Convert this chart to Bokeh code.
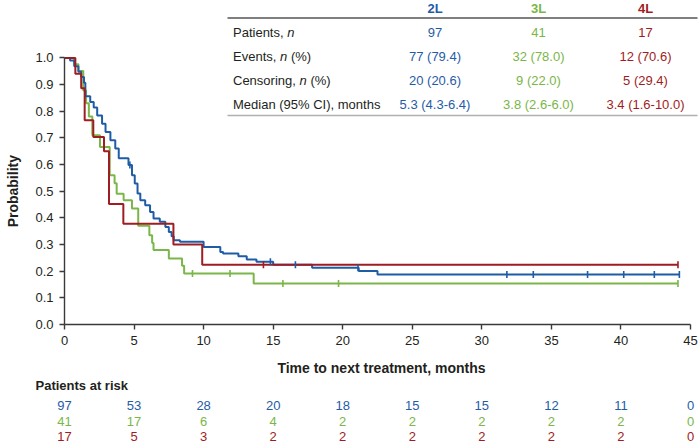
import numpy as np
from bokeh.plotting import figure
from bokeh.layouts import column, row
from bokeh.models import Range1d, FixedTicker, NumeralTickFormatter
from bokeh.core.properties import value
from bokeh.embed import file_html
from bokeh.resources import INLINE

FONT = "Liberation Sans"
C_2L, C_3L, C_4L = "#1f5ca6", "#7ab648", "#9e1d22"
INK = "#231f20"

# Kaplan-Meier step curves (time in months, survival probability)
t_2l = [0, 0.4, 0.7, 1.0, 1.2, 1.4, 1.5, 1.85, 2.1, 2.35, 2.7, 2.95, 3.3, 3.65, 3.9,
        4.6, 4.85, 5.05, 5.25, 5.45, 5.8, 6.15, 6.4, 6.85, 7.25, 7.5, 7.7, 7.85, 8.3,
        10.0, 11.2, 11.4, 12.5, 13.1, 13.8, 15.0, 17.8, 21.15, 22.5, 44.2]
s_2l = [1.0, 0.99, 0.969, 0.948, 0.928, 0.907, 0.856, 0.835, 0.814, 0.784, 0.753, 0.722, 0.691, 0.66, 0.624,
        0.598, 0.56, 0.529, 0.491, 0.466, 0.447, 0.422, 0.398, 0.385, 0.366, 0.347, 0.331, 0.316, 0.31,
        0.291, 0.272, 0.266, 0.256, 0.244, 0.235, 0.224, 0.213, 0.201, 0.188, 0.188]
cens_2l = [4.7, 14.8, 16.6, 21.1, 31.8, 33.7, 37.6, 40.2, 42.4, 44.2]

t_3l = [0, 0.7, 1.0, 1.35, 1.55, 1.75, 2.0, 2.55, 3.25, 3.6, 3.75, 4.25, 4.85, 5.3,
        6.1, 6.3, 6.4, 7.5, 8.45, 8.6, 13.6, 44.1]
s_3l = [1.0, 0.976, 0.951, 0.878, 0.83, 0.78, 0.71, 0.666, 0.56, 0.53, 0.49, 0.466, 0.435, 0.37,
        0.335, 0.306, 0.279, 0.248, 0.22, 0.191, 0.154, 0.154]
cens_3l = [9.2, 11.9, 15.7, 19.7, 44.1]

t_4l = [0, 0.78, 1.2, 1.45, 2.07, 2.84, 3.2, 4.23, 7.83, 9.9, 44.1]
s_4l = [1.0, 0.941, 0.886, 0.766, 0.703, 0.65, 0.452, 0.378, 0.30, 0.224, 0.224]
cens_4l = [14.3, 44.1]

# Numbers at risk
risk_times = [0, 5, 10, 15, 20, 25, 30, 35, 40, 45]
risk_2l = [97, 53, 28, 20, 18, 15, 15, 12, 11, 0]
risk_3l = [41, 17, 6, 4, 2, 2, 2, 2, 2, 0]
risk_4l = [17, 5, 3, 2, 2, 2, 2, 2, 2, 0]

# Summary table
table_groups = ["2L", "3L", "4L"]
table_patients = ["97", "41", "17"]
table_events = ["77 (79.4)", "32 (78.0)", "12 (70.6)"]
table_censoring = ["20 (20.6)", "9 (22.0)", "5 (29.4)"]
table_median = ["5.3 (4.3-6.4)", "3.8 (2.6-6.0)", "3.4 (1.6-10.0)"]

# ---- layout (canvas pixels) ----
W, H = 700, 443
STRIP_W = 24                      # narrow strip holding the y title
MAIN_W = W - STRIP_W
MAIN_H, RISK_H = 378, 65
LEFT = 64                         # canvas x of the time origin
RIGHT_PAD = 2
FRAME_H = 324
PX_PER_MONTH = (690 - LEFT) / 45.0
PX_PER_PROB = 266.6

def dx(px):
    return (px - LEFT) / PX_PER_MONTH

def dy(py):
    return (FRAME_H - py) / PX_PER_PROB

def clean(fig):
    fig.grid.visible = False
    fig.outline_line_color = None
    fig.background_fill_color = "white"
    fig.border_fill_color = "white"

# ---- main survival plot ----
p = figure(width=MAIN_W, height=MAIN_H, output_backend="svg", toolbar_location=None,
           x_range=Range1d(0, dx(W - RIGHT_PAD)), y_range=Range1d(0, dy(0)),
           min_border_left=LEFT - STRIP_W, min_border_right=RIGHT_PAD,
           min_border_top=0, min_border_bottom=MAIN_H - FRAME_H)
clean(p)

# ---- y title strip (its frame lines up with the main frame, so it shares the y scale) ----
s = figure(width=STRIP_W, height=MAIN_H, output_backend="svg", toolbar_location=None,
           x_range=Range1d(0, STRIP_W), y_range=p.y_range,
           x_axis_location=None, y_axis_location=None,
           min_border_left=0, min_border_right=0, min_border_top=0,
           min_border_bottom=MAIN_H - FRAME_H)
clean(s)
s.text(x=[12], y=[0.5], text=["Probability"], angle=np.pi / 2,
       text_color=INK, text_font=value(FONT), text_font_size="14px", text_font_style="bold",
       text_align="center", text_baseline="middle")

for ax in (p.xaxis[0], p.yaxis[0]):
    ax.axis_line_color = "#3a3a3a"
    ax.axis_line_width = 1.4
    ax.major_tick_line_color = "#3a3a3a"
    ax.major_tick_line_width = 1.4
    ax.major_tick_out = 5
    ax.major_tick_in = 0
    ax.minor_tick_out = 0
    ax.minor_tick_in = 0
    ax.major_label_text_font = FONT
    ax.major_label_text_font_size = "13px"
    ax.major_label_text_color = INK
    ax.major_label_standoff = 6

xa = p.xaxis[0]
xa.ticker = FixedTicker(ticks=risk_times)
xa.bounds = (0, 45)
xa.axis_label = "Time to next treatment, months"
xa.axis_label_text_font = FONT
xa.axis_label_text_font_size = "14px"
xa.axis_label_text_font_style = "bold"
xa.axis_label_text_color = INK
xa.axis_label_standoff = 12

ya = p.yaxis[0]
ya.ticker = FixedTicker(ticks=[i / 10 for i in range(11)])
ya.formatter = NumeralTickFormatter(format="0.0")
ya.bounds = (0, 1)

# survival curves with censor ticks
def surv_at(times, surv, c):
    idx = np.searchsorted(np.asarray(times), np.asarray(c), side="right") - 1
    return list(np.asarray(surv)[idx])

groups = ((t_3l, s_3l, cens_3l, C_3L),
          (t_2l, s_2l, cens_2l, C_2L),
          (t_4l, s_4l, cens_4l, C_4L))
for t, sv, c, col in groups:
    p.step(x=t, y=sv, mode="after", line_color=col, line_width=2)
for t, sv, c, col in groups:
    p.scatter(x=c, y=surv_at(t, sv, c), marker="dash", angle=np.pi / 2,
              size=7, line_color=col, line_width=1.6)

# ---- summary table ----
TABLE_X0, TABLE_X1 = 227, 697
HEADER_Y, TOP_RULE_Y, BOTTOM_RULE_Y = 7.5, 17.5, 115
ROW_Y = [31.7, 56, 80, 103.5]
LABEL_X = 232.5
COL_X = [434.5, 538, 645]
COLS = [C_2L, C_3L, C_4L]

p.segment(x0=[dx(TABLE_X0)], y0=[dy(TOP_RULE_Y)], x1=[dx(TABLE_X1)], y1=[dy(TOP_RULE_Y)],
          line_color="#555555", line_width=1.5)
p.segment(x0=[dx(TABLE_X0)], y0=[dy(BOTTOM_RULE_Y)], x1=[dx(TABLE_X1)], y1=[dy(BOTTOM_RULE_Y)],
          line_color="#b0b0b0", line_width=1.5)

p.text(x=[dx(cx) for cx in COL_X], y=[dy(HEADER_Y)] * 3, text=table_groups,
       text_color=COLS, text_font=value(FONT), text_font_size="13px",
       text_font_style="bold", text_align="center", text_baseline="middle")

row_labels = ["Patients, ", "Events, ", "Censoring, ", "Median (95% CI), months"]
p.text(x=[dx(LABEL_X)] * 4, y=[dy(r_) for r_ in ROW_Y], text=row_labels,
       text_color=INK, text_font=value(FONT), text_font_size="13px",
       text_align="left", text_baseline="middle")
# italic "n" and the trailing "(%)"
p.text(x=[dx(LABEL_X)] * 3, y=[dy(r_) for r_ in ROW_Y[:3]], text=["n", "n", "n"],
       x_offset=[54.2, 47.0, 66.5],
       text_color=INK, text_font=value(FONT), text_font_size="13px",
       text_font_style="italic", text_align="left", text_baseline="middle")
p.text(x=[dx(LABEL_X)] * 2, y=[dy(r_) for r_ in ROW_Y[1:3]], text=["(%)", "(%)"],
       x_offset=[57.9, 77.4],
       text_color=INK, text_font=value(FONT), text_font_size="13px",
       text_align="left", text_baseline="middle")

for row_vals, yy in zip((table_patients, table_events, table_censoring, table_median), ROW_Y):
    p.text(x=[dx(cx) for cx in COL_X], y=[dy(yy)] * 3, text=row_vals,
           text_color=COLS, text_font=value(FONT), text_font_size="13px",
           text_align="center", text_baseline="middle")

# ---- numbers at risk (full-width strip below, same horizontal scale) ----
r = figure(width=W, height=RISK_H, output_backend="svg", toolbar_location=None,
           x_range=Range1d(dx(0), dx(W)), y_range=Range1d(0, RISK_H),
           x_axis_location=None, y_axis_location=None,
           min_border_left=0, min_border_right=0, min_border_top=0, min_border_bottom=0)
clean(r)

def ry(py):
    return MAIN_H + RISK_H - py

r.text(x=[dx(35)], y=[ry(385)], text=["Patients at risk"],
       text_color=INK, text_font=value(FONT), text_font_size="13px",
       text_font_style="bold", text_align="left", text_baseline="middle")
for counts, py, col in ((risk_2l, 405, C_2L), (risk_3l, 420.5, C_3L), (risk_4l, 435.7, C_4L)):
    r.text(x=risk_times, y=[ry(py)] * len(risk_times), text=[str(v) for v in counts],
           text_color=col, text_font=value(FONT), text_font_size="13px",
           text_align="center", text_baseline="middle")

layout = column(row(s, p, spacing=0), r, spacing=0)
open("out.html", "w").write(file_html(layout, INLINE))
